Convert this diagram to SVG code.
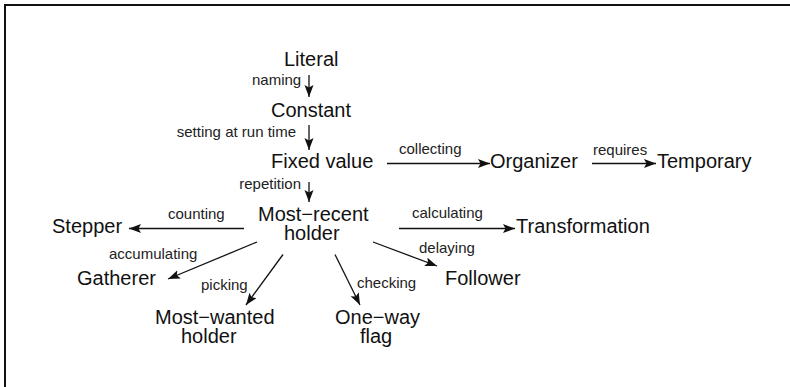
<svg xmlns="http://www.w3.org/2000/svg" width="790" height="387" viewBox="0 0 790 387">
<style>
.n{font-family:"Liberation Sans",Arial,sans-serif;font-size:20px;fill:#111}
.l{font-family:"Liberation Sans",Arial,sans-serif;font-size:15px;fill:#222}
.c line{stroke:#111;stroke-width:1.3;marker-end:url(#ah)}
</style>
<defs>
<marker id="ah" markerUnits="userSpaceOnUse" markerWidth="13" markerHeight="10" refX="12" refY="4.5" orient="auto">
<path d="M0,0 L12,4.5 L0,9 L2.5,4.5 Z" fill="#111"/>
</marker>
</defs>
<rect x="0" y="0" width="790" height="387" fill="#fff"/>
<rect x="5" y="5" width="800" height="400" fill="none" stroke="#111" stroke-width="2"/>
<g id="literal"><text class="n" x="284" y="66">Literal</text></g>
<g id="constant"><text class="n" x="271" y="117">Constant</text></g>
<g id="fixed"><text class="n" x="271" y="168">Fixed value</text></g>
<g id="organizer"><text class="n" x="490" y="168">Organizer</text></g>
<g id="temporary"><text class="n" x="657" y="168">Temporary</text></g>
<g id="mostrecent"><text class="n"><tspan x="258" y="221">Most−recent</tspan><tspan x="284" y="240">holder</tspan></text></g>
<g id="stepper"><text class="n" x="52" y="233">Stepper</text></g>
<g id="transformation"><text class="n" x="516" y="233">Transformation</text></g>
<g id="gatherer"><text class="n" x="77" y="285">Gatherer</text></g>
<g id="follower"><text class="n" x="445" y="285">Follower</text></g>
<g id="mostwanted"><text class="n"><tspan x="155" y="324">Most−wanted</tspan><tspan x="181" y="342.5">holder</tspan></text></g>
<g id="oneway"><text class="n"><tspan x="335" y="324">One−way</tspan><tspan x="360" y="342.5">flag</tspan></text></g>
<g id="connectors" class="c">
<line x1="309" y1="75" x2="309" y2="97"/>
<line x1="309" y1="125" x2="309" y2="150"/>
<line x1="309" y1="182" x2="309" y2="202"/>
<line x1="387" y1="163.5" x2="490" y2="163.5"/>
<line x1="592" y1="163.5" x2="656" y2="163.5"/>
<line x1="244" y1="228.5" x2="129" y2="228.5"/>
<line x1="399" y1="228.5" x2="515" y2="228.5"/>
<line x1="257" y1="242" x2="168" y2="279"/>
<line x1="283" y1="254.5" x2="246" y2="305"/>
<line x1="335" y1="254.5" x2="360" y2="305"/>
<line x1="373" y1="242" x2="437" y2="266"/>
</g>
<g id="labels">
<text class="l" x="252" y="85">naming</text>
<text class="l" x="296" y="137" text-anchor="end">setting at run time</text>
<text class="l" x="301" y="189" text-anchor="end">repetition</text>
<text class="l" x="399" y="154">collecting</text>
<text class="l" x="593" y="155">requires</text>
<text class="l" x="168" y="219">counting</text>
<text class="l" x="412" y="218">calculating</text>
<text class="l" x="109" y="259">accumulating</text>
<text class="l" x="419" y="253">delaying</text>
<text class="l" x="201" y="290">picking</text>
<text class="l" x="357" y="288">checking</text>
</g>
</svg>
